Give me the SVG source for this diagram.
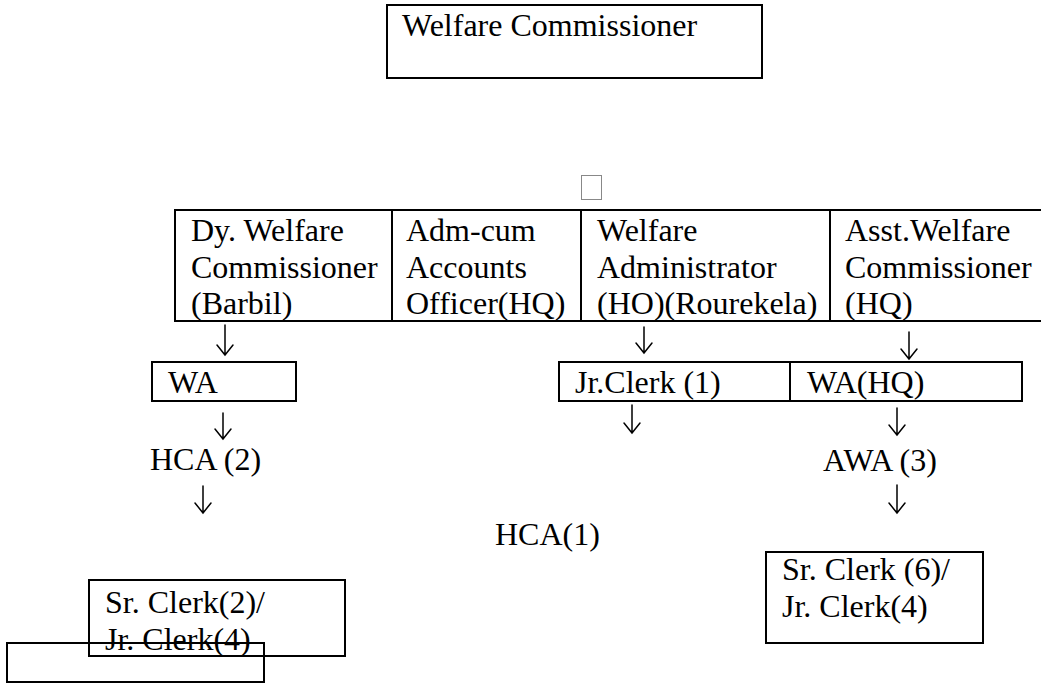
<svg xmlns="http://www.w3.org/2000/svg" width="1041" height="684" viewBox="0 0 1041 684">
<style>
  text { font-family: "Liberation Serif", "Times New Roman", serif; font-size: 32px; fill: #000; }
  .box { fill: none; stroke: #000; stroke-width: 2; }
  .line { stroke: #000; stroke-width: 2; }
  .arrow { fill: none; stroke: #000; stroke-width: 1.5; stroke-linecap: round; stroke-linejoin: miter; }
</style>
<rect width="1041" height="684" fill="#fff"/>

<g id="welfare-commissioner">
  <rect class="box" x="387" y="5" width="375" height="73"/>
  <text x="402" y="36">Welfare Commissioner</text>
</g>

<g id="tofu-mark">
  <rect x="581.5" y="175.5" width="20" height="24" fill="none" stroke="#888" stroke-width="1"/>
</g>

<g id="officers-table">
  <rect class="box" x="175" y="210" width="900" height="111"/>
  <line class="line" x1="392" y1="210" x2="392" y2="321"/>
  <line class="line" x1="581" y1="210" x2="581" y2="321"/>
  <line class="line" x1="830" y1="210" x2="830" y2="321"/>
</g>

<g id="dy-welfare-commissioner">
  <text x="191" y="241">Dy. Welfare</text>
  <text x="191" y="278">Commissioner</text>
  <text x="191" y="314">(Barbil)</text>
</g>

<g id="adm-cum-accounts-officer">
  <text x="406" y="241">Adm-cum</text>
  <text x="406" y="278">Accounts</text>
  <text x="406" y="314">Officer(HQ)</text>
</g>

<g id="welfare-administrator">
  <text x="597" y="241">Welfare</text>
  <text x="597" y="278">Administrator</text>
  <text x="597" y="314">(HO)(Rourekela)</text>
</g>

<g id="asst-welfare-commissioner">
  <text x="845" y="241">Asst.Welfare</text>
  <text x="845" y="278">Commissioner</text>
  <text x="845" y="314">(HQ)</text>
</g>

<g id="wa-barbil">
  <rect class="box" x="152" y="362" width="144" height="39"/>
  <text x="168" y="393">WA</text>
</g>

<g id="hca-2">
  <text x="150" y="470">HCA (2)</text>
</g>

<g id="sr-clerk-2">
  <rect class="box" x="89" y="580" width="256" height="76"/>
  <text x="105" y="613">Sr. Clerk(2)/</text>
  <text x="105" y="650">Jr. Clerk(4)</text>
</g>

<g id="empty-box">
  <rect class="box" x="7" y="643" width="257" height="39"/>
</g>

<g id="jr-clerk-wa-hq">
  <rect class="box" x="559" y="362" width="463" height="39"/>
  <line class="line" x1="790" y1="362" x2="790" y2="401"/>
  <text x="575" y="393">Jr.Clerk (1)</text>
  <text x="807" y="393">WA(HQ)</text>
</g>

<g id="hca-1">
  <text x="495" y="545">HCA(1)</text>
</g>

<g id="awa-3">
  <text x="823" y="471">AWA (3)</text>
</g>

<g id="sr-clerk-6">
  <rect class="box" x="766" y="552" width="217" height="91"/>
  <text x="782" y="580">Sr. Clerk (6)/</text>
  <text x="782" y="617">Jr. Clerk(4)</text>
</g>

<g id="connectors">
  <path class="arrow" d="M225 325 V355 M217 345 L225 355 L233 345"/>
  <path class="arrow" d="M223 413 V439 M215 429 L223 439 L231 429"/>
  <path class="arrow" d="M203 486 V513 M195 503 L203 513 L211 503"/>
  <path class="arrow" d="M644 327 V353 M636 343 L644 353 L652 343"/>
  <path class="arrow" d="M632 405 V433 M624 423 L632 433 L640 423"/>
  <path class="arrow" d="M909 332 V359 M901 349 L909 359 L917 349"/>
  <path class="arrow" d="M897 408 V435 M889 425 L897 435 L905 425"/>
  <path class="arrow" d="M897 485 V513 M889 503 L897 513 L905 503"/>
</g>
</svg>
